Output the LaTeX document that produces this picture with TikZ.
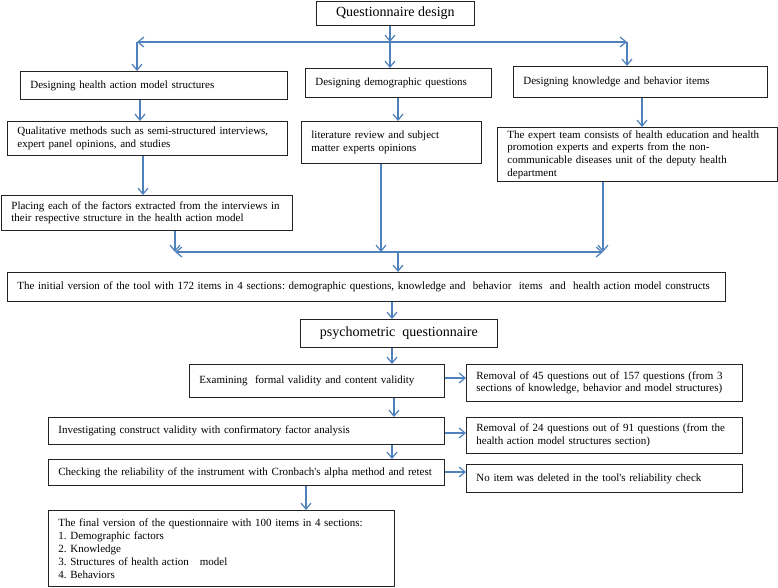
\documentclass[tikz,border=0pt]{standalone}
\usepackage{fontspec}
\setmainfont{Liberation Serif}
\usetikzlibrary{arrows.meta}
\definecolor{arrowblue}{RGB}{79,129,189}
\definecolor{boxline}{RGB}{35,35,35}
\frenchspacing
\begin{document}
\begin{tikzpicture}[x=1pt,y=-1pt,
  box/.style={draw=boxline, line width=0.8pt, anchor=north west, inner xsep=10pt, inner ysep=1pt, align=left, font=\fontsize{11}{12.7}\selectfont},
  bigbox/.style={draw=boxline, line width=0.8pt, anchor=north west, inner sep=1pt, align=center, font=\fontsize{14}{16}\selectfont},
  arr/.style={draw=arrowblue, line width=1.2pt, -{Straight Barb[length=6pt,width=10pt]}}]
\path[fill=white, use as bounding box] (0,0) rectangle (778,587);

% boxes
\node[bigbox, minimum width=158pt, minimum height=24pt] (T) at (316,1) {Questionnaire design};
\node[box, minimum width=267pt, text width=247pt, minimum height=28pt] (A) at (20,71) {Designing health action model structures};
\node[box, minimum width=186pt, text width=166pt, minimum height=29pt] (B) at (305,68) {Designing demographic questions};
\node[box, minimum width=254pt, text width=234pt, minimum height=31pt] (C) at (513,66) {Designing knowledge and behavior items};
\node[box, minimum width=280pt, text width=260pt, minimum height=34pt] (D) at (7,121) {Qualitative methods such as semi-structured interviews,\\expert panel opinions, and studies};
\node[box, minimum width=180pt, text width=160pt, minimum height=42pt] (E) at (301,121) {literature review and subject\\matter experts opinions};
\node[box, minimum width=280pt, text width=260pt, minimum height=54pt] (F) at (497,127) {The expert team consists of health education and health\\promotion experts and experts from the non-\\communicable diseases unit of the deputy health\\department};
\node[box, minimum width=291pt, text width=271pt, minimum height=35pt] (G) at (1,195) {Placing each of the factors extracted from the interviews in\\their respective structure in the health action model};
\node[box, minimum width=718pt, text width=698pt, minimum height=29pt] (H) at (7,272) {The initial version of the tool with 172 items in 4 sections: demographic questions, knowledge and\ \ behavior\ \ items\ \ and\ \ health action model constructs};
\node[bigbox, minimum width=197pt, minimum height=28pt] (I) at (300,319) {psychometric\ \ questionnaire};
\node[box, minimum width=255pt, text width=235pt, minimum height=33pt] (J) at (189,364) {Examining\ \ formal validity and content validity};
\node[box, minimum width=276pt, text width=256pt, minimum height=37pt] (K) at (466,364) {Removal of 45 questions out of 157 questions (from 3\\sections of knowledge, behavior and model structures)};
\node[box, minimum width=396pt, text width=376pt, minimum height=27pt] (L) at (48,417) {Investigating construct validity with confirmatory factor analysis};
\node[box, minimum width=276pt, text width=256pt, minimum height=36pt] (M) at (466,417) {Removal of 24 questions out of 91 questions (from the\\health action model structures section)};
\node[box, minimum width=396pt, text width=376pt, minimum height=26pt] (N) at (48,459) {Checking the reliability of the instrument with Cronbach\textquotesingle s alpha method and retest};
\node[box, minimum width=276pt, text width=256pt, minimum height=28pt] (O) at (466,464) {No item was deleted in the tool\textquotesingle s reliability check};
\node[box, minimum width=346pt, text width=326pt, minimum height=76pt, font=\fontsize{11}{13}\selectfont] (P) at (48,510) {The final version of the questionnaire with 100 items in 4 sections:\\1. Demographic factors\\2. Knowledge\\3. Structures of health action\ \ \ model\\4. Behaviors};

% fork from title
\coordinate (f) at (390,42);
\coordinate (fl) at (137,42);
\coordinate (fr) at (627,42);
\draw[arr] (T.south -| f) -- (f);
\draw[arr] (f) -- (fl);
\draw[arr] (f) -- (fr);
\draw[arr] (fl) -- (fl |- A.north);
\draw[arr] (f) -- (f |- B.north);
\draw[arr] (fr) -- (fr |- C.north);

% columns
\coordinate (xAD) at (140,0);
\coordinate (xBE) at (398,0);
\coordinate (xCF) at (642,0);
\coordinate (xDG) at (143,0);
\draw[arr] (A.south -| xAD) -- (D.north -| xAD);
\draw[arr] (B.south -| xBE) -- (E.north -| xBE);
\draw[arr] (C.south -| xCF) -- (F.north -| xCF);
\draw[arr] (D.south -| xDG) -- (G.north -| xDG);

% merge
\coordinate (m) at (381,252);
\coordinate (ml) at (175,252);
\coordinate (mr) at (603,252);
\coordinate (mh) at (398,252);
\draw[arr] (m) -- (ml);
\draw[arr] (m) -- (mr);
\draw[arr] (G.south -| ml) -- (ml);
\draw[arr] (E.south -| m) -- (m);
\draw[arr] (F.south -| mr) -- (mr);
\draw[arr] (mh) -- (H.north -| mh);

% psychometric chain
\coordinate (xHI) at (392,0);
\coordinate (xJL) at (394,0);
\coordinate (xNP) at (306,0);
\draw[arr] (H.south -| xHI) -- (I.north -| xHI);
\draw[arr] (I.south -| xHI) -- (J.north -| xHI);
\draw[arr] (J.south -| xJL) -- (L.north -| xJL);
\draw[arr] (L.south -| xHI) -- (N.north -| xHI);
\draw[arr] (N.south -| xNP) -- (P.north -| xNP);

% side arrows
\coordinate (yJK) at (0,378);
\coordinate (yLM) at (0,433);
\coordinate (yNO) at (0,472);
\draw[arr] (J.east |- yJK) -- (K.west |- yJK);
\draw[arr] (L.east |- yLM) -- (M.west |- yLM);
\draw[arr] (N.east |- yNO) -- (O.west |- yNO);
\end{tikzpicture}
\end{document}
